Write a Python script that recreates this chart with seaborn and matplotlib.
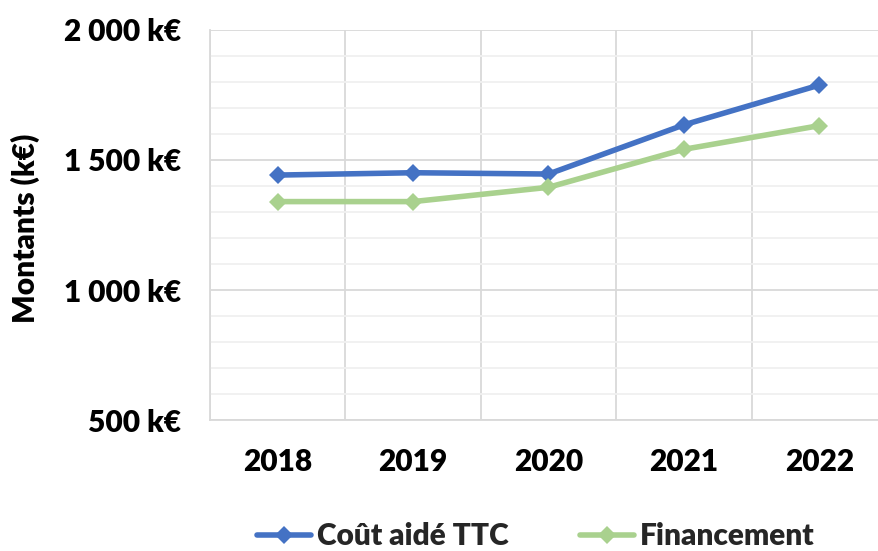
import matplotlib
matplotlib.use("Agg")
import matplotlib.pyplot as plt
import seaborn as sns
import pandas as pd
from matplotlib.ticker import FuncFormatter, MultipleLocator, FixedLocator

years = ["2018", "2019", "2020", "2021", "2022"]
cout_aide = [1442, 1451, 1446, 1635, 1788]
financement = [1340, 1340, 1395, 1541, 1632]
series_names = ["Coût aidé TTC", "Financement"]
y_ticks = [500, 1000, 1500, 2000]

sns.set_theme(style="white")
plt.rcParams['font.family'] = ['Lato', 'DejaVu Sans']
plt.rcParams['font.weight'] = 'heavy'

W = "heavy"
df = pd.DataFrame({
    "Année": years * 2,
    "Montant": cout_aide + financement,
    "Série": [series_names[0]] * len(years) + [series_names[1]] * len(years),
})

FS = 21.5
fig = plt.figure(figsize=(8.79, 5.51), dpi=100)
ax = fig.add_axes([0.239, 0.2377, 0.770, 0.7079])

palette = {series_names[0]: "#4472C4", series_names[1]: "#A9D18E"}
sns.lineplot(data=df, x="Année", y="Montant", hue="Série", palette=palette,
             marker="D", markersize=9, markeredgewidth=0, linewidth=4,
             ax=ax, legend=True, sort=False)

ax.set_xlim(-0.5, 4.5)
ax.set_ylim(500, 2000)
ax.yaxis.set_major_locator(FixedLocator(y_ticks))
ax.yaxis.set_minor_locator(MultipleLocator(100))
ax.xaxis.set_minor_locator(FixedLocator([-0.5, 0.5, 1.5, 2.5, 3.5, 4.5]))

def fmt(v, pos):
    s = f"{int(round(v)):,}".replace(",", " ")
    return f"{s} k€"
ax.yaxis.set_major_formatter(FuncFormatter(fmt))

ax.grid(which="major", axis="y", color="#d9d9d9", linewidth=1.3)
ax.grid(which="minor", axis="y", color="#f0f0f0", linewidth=1.3)
ax.grid(which="minor", axis="x", color="#d9d9d9", linewidth=1.3)
ax.grid(which="major", axis="x", visible=False)
ax.set_axisbelow(True)
for sp in ["top", "right"]:
    ax.spines[sp].set_visible(False)
for sp in ["left", "bottom"]:
    ax.spines[sp].set_color("#d9d9d9")
    ax.spines[sp].set_linewidth(1.3)

ax.tick_params(axis="both", which="both", length=0, labelsize=FS, colors="black")
ax.tick_params(axis="y", pad=21)
ax.tick_params(axis="x", pad=20)
for lbl in ax.get_xticklabels() + ax.get_yticklabels():
    lbl.set_fontweight(W)

ax.set_xlabel("")
ax.set_ylabel("")
fig.text(25 / 879, 1 - 228 / 551, "Montants (k€)", rotation=90, ha="center", va="center",
         fontsize=FS, fontweight=W, color="black")

handles, labels = ax.get_legend_handles_labels()
if ax.get_legend() is not None:
    ax.get_legend().remove()
fig.legend(handles, labels, loc="center", bbox_to_anchor=(536 / 879, 1 - 536 / 551),
           bbox_transform=fig.transFigure, ncol=2, frameon=False,
           handlelength=1.8, columnspacing=2.4, handletextpad=0.2,
           prop={"weight": W, "size": FS})

fig.savefig("out.png", dpi=100)
